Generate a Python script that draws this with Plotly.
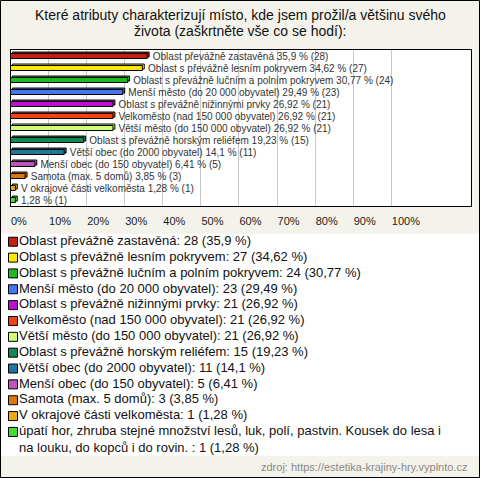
import plotly.graph_objects as go

# data
labels = [
    "Oblast převážně zastavěná",
    "Oblast s převážně lesním pokryvem",
    "Oblast s převážně lučním a polním pokryvem",
    "Menší město (do 20 000 obyvatel)",
    "Oblast s převážně nižinnými prvky",
    "Velkoměsto (nad 150 000 obyvatel)",
    "Větší město (do 150 000 obyvatel)",
    "Oblast s převážně horským reliéfem",
    "Větší obec (do 2000 obyvatel)",
    "Menší obec (do 150 obyvatel)",
    "Samota (max. 5 domů)",
    "V okrajové části velkoměsta",
    "úpatí hor, zhruba stejné množství lesů, luk, polí, pastvin. Kousek do lesa i<br>na louku, do kopců i do rovin. ",
]
bar_labels = labels[:12] + [""]  # last answer has no label next to its bar
counts = [28, 27, 24, 23, 21, 21, 21, 15, 11, 5, 3, 1, 1]
percents = [35.9, 34.62, 30.77, 29.49, 26.92, 26.92, 26.92, 19.23, 14.1, 6.41, 3.85, 1.28, 1.28]
colors = ["#C0200E", "#FFE800", "#22B822", "#4477EE", "#BB11CC", "#EE4411", "#CCFF77",
          "#118855", "#227799", "#BB55BB", "#DD7711", "#EEAA11", "#44DD33"]
tick_vals = [0, 10, 20, 30, 40, 50, 60, 70, 80, 90, 100]
tick_text = [f"{v}%" for v in tick_vals]

W, H = 480, 478
BG = "#F4F3EB"
FONT = "Liberation Sans, Arial, sans-serif"


def fmt(v):
    return f"{v:g}".replace(".", ",")


rows = list(range(len(labels)))
bar_text = ["\u00a0\u00a0" + (f"{l} " if l else "") + f"{fmt(p)} % ({c})"
            for l, p, c in zip(bar_labels, percents, counts)]
legend_text = [f"{l}: {c} ({fmt(p)} %)" for l, p, c in zip(labels, percents, counts)]
# row where each legend text sits (the wrapped last one spans two lines)
legend_text_y = [r + (0.5 if "<br>" in l else 0) for r, l in zip(rows, labels)]

fig = go.Figure()

# back face of the pseudo-3D bars
fig.add_trace(go.Bar(
    x=percents, y=rows, orientation="h", base=0.5,
    marker=dict(color=colors, line=dict(color="black", width=1)),
    width=0.42, offset=-0.33,
    hoverinfo="skip", showlegend=False,
))
fig.add_trace(go.Bar(
    x=percents, y=rows, orientation="h",
    marker=dict(color=colors, line=dict(color="black", width=1)),
    width=0.42, offset=-0.21,
    text=bar_text, textposition="outside", cliponaxis=False,
    textfont=dict(family=FONT, size=10, color="#333333"),
    constraintext="none",
    hoverinfo="skip", showlegend=False,
))

# legend block under the chart, drawn as its own small subplot
fig.add_trace(go.Scatter(
    x=[13] * len(rows), y=rows, mode="markers",
    marker=dict(symbol="square", size=9, color=colors, line=dict(color="black", width=1)),
    hoverinfo="skip", showlegend=False,
    xaxis="x2", yaxis="y2",
))
fig.add_trace(go.Scatter(
    x=[19] * len(rows), y=legend_text_y, mode="text",
    text=legend_text, textposition="middle right",
    textfont=dict(family=FONT, size=13, color="#111111"),
    hoverinfo="skip", showlegend=False,
    xaxis="x2", yaxis="y2",
))

px_to_y = lambda p: 1 - p / H

fig.update_layout(
    width=W, height=H,
    margin=dict(l=0, r=0, t=0, b=0),
    paper_bgcolor=BG, plot_bgcolor="white",
    font=dict(family=FONT, color="#222222"),
    barmode="overlay",
    xaxis=dict(
        domain=[10.5 / W, 470.5 / W], range=[0, 120.8],
        tickvals=tick_vals, ticktext=tick_text,
        ticklabelposition="outside right", ticklabelstandoff=5,
        tickfont=dict(size=11, color="#222222"),
        showgrid=True, gridcolor="#C8C8C8", gridwidth=1,
        zeroline=False, ticks="",
        showline=True, linecolor="black", linewidth=1, mirror=True,
        fixedrange=True,
    ),
    yaxis=dict(
        domain=[px_to_y(206), px_to_y(50)], range=[12.5, -0.5],
        showticklabels=False, showgrid=False, zeroline=False, ticks="",
        showline=True, linecolor="black", linewidth=1, mirror=True,
    ),
    xaxis2=dict(domain=[0, 1], range=[0, W], visible=False, anchor="y2"),
    yaxis2=dict(domain=[px_to_y(455.7), px_to_y(233.8)], range=[13.5, -0.5],
                visible=False, anchor="x2"),
    annotations=[
        dict(x=0.5, y=px_to_y(15), xref="paper", yref="paper", xanchor="center", yanchor="middle",
             text="Které atributy charakterizují místo, kde jsem prožil/a většinu svého",
             showarrow=False, font=dict(size=14, color="#111111")),
        dict(x=0.5, y=px_to_y(31), xref="paper", yref="paper", xanchor="center", yanchor="middle",
             text="života (zaškrtněte vše co se hodí):",
             showarrow=False, font=dict(size=14, color="#111111")),
        dict(x=469 / W, y=px_to_y(467), xref="paper", yref="paper", xanchor="right", yanchor="middle",
             text="zdroj: https://estetika-krajiny-hry.vyplnto.cz",
             showarrow=False, font=dict(size=11, color="#888888")),
    ],
    shapes=[
        dict(type="rect", xref="paper", yref="paper", x0=0.5 / W, x1=1 - 0.5 / W,
             y0=0.5 / H, y1=1 - 0.5 / H, line=dict(color="black", width=1)),
    ],
)

fig.write_html("out.html", config={"displayModeBar": False},
               post_script="document.body.style.margin='0';")
